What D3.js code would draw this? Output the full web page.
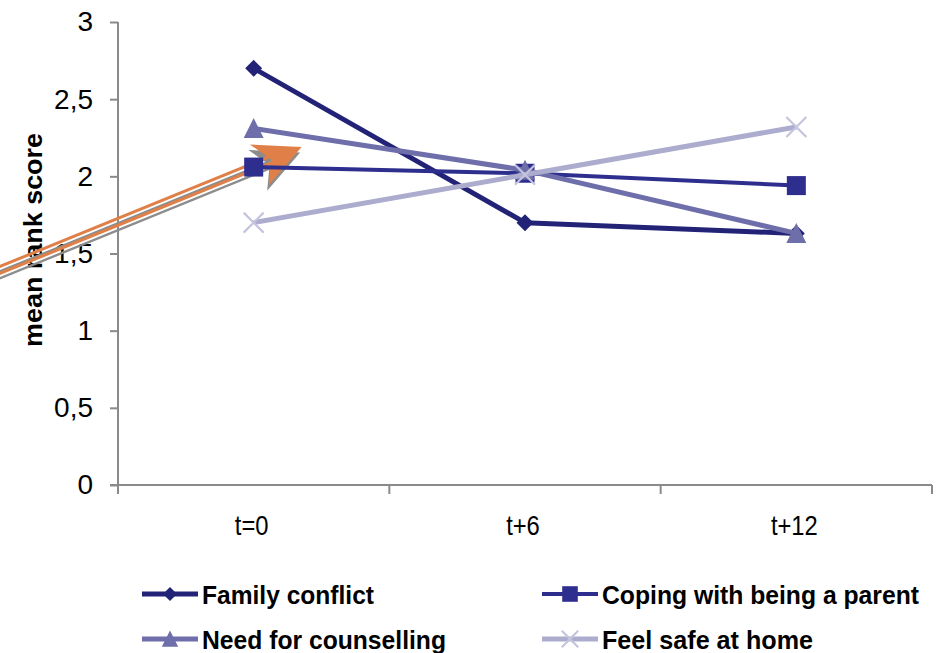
<!DOCTYPE html>
<html>
<head>
<meta charset="utf-8">
<script src="https://cdn.jsdelivr.net/npm/d3@7"></script>
<style>
  html, body { margin: 0; padding: 0; background: #fff; }
  svg { display: block; font-family: "Liberation Sans", Arial, sans-serif; }
</style>
</head>
<body>
<svg id="chart" width="937" height="653"></svg>
<script>
// Time points and mean rank scores per item
const categories = ["t=0", "t+6", "t+12"];
const familyConflict = [2.70, 1.70, 1.63];
const copingParent   = [2.06, 2.02, 1.94];
const needCounselling = [2.31, 2.04, 1.63];
const feelSafeHome   = [1.70, 2.01, 2.32];
const yTicks = [0, 0.5, 1, 1.5, 2, 2.5, 3];

const series = [
  { name: "Family conflict", values: familyConflict, color: "#222277", width: 5, marker: "diamond" },
  { name: "Coping with being a parent", values: copingParent, color: "#2e2e8e", width: 4, marker: "square" },
  { name: "Need for counselling", values: needCounselling, color: "#6e6eaa", width: 5, marker: "triangle" },
  { name: "Feel safe at home", values: feelSafeHome, color: "#acacce", width: 5, marker: "cross" }
];

const svg = d3.select("#chart");
const plotLeft = 118, plotRight = 932, plotTop = 22, plotBottom = 485;

const x = d3.scaleBand().domain(categories).range([plotLeft, plotRight]).padding(0);
const y = d3.scaleLinear().domain([0, 3]).range([plotBottom, plotTop]);
const fmt = d => d3.format(".1~f")(d).replace(".", ",");

const axisColor = "#8a8a8a";

// Y axis
const yAxis = svg.append("g")
  .attr("transform", `translate(${plotLeft},0)`)
  .call(d3.axisLeft(y).tickValues(yTicks).tickFormat(fmt).tickSize(8).tickPadding(17));
yAxis.select(".domain").attr("stroke", axisColor).attr("stroke-width", 2)
  .attr("d", `M0,${plotTop}V${plotBottom + 8}`);
yAxis.selectAll(".tick line").attr("stroke", axisColor).attr("stroke-width", 2);
yAxis.selectAll(".tick text").attr("font-size", 28).attr("fill", "#000")
  .attr("font-family", "Liberation Sans, Arial, sans-serif");

// X axis: ticks at category boundaries
const xAxis = svg.append("g").attr("transform", `translate(0,${plotBottom})`);
xAxis.append("line").attr("x1", plotLeft - 8).attr("x2", plotRight).attr("y1", 0).attr("y2", 0)
  .attr("stroke", axisColor).attr("stroke-width", 2);
const bounds = categories.map(c => x(c)).concat([x(categories[categories.length - 1]) + x.bandwidth()]);
xAxis.selectAll("line.tk").data(bounds).join("line").attr("class", "tk")
  .attr("x1", d => d).attr("x2", d => d).attr("y1", 0).attr("y2", 9)
  .attr("stroke", axisColor).attr("stroke-width", 2);
xAxis.selectAll("text").data(categories).join("text")
  .attr("transform", d => `translate(${x(d) + x.bandwidth() / 2 - 2},50) scale(0.88,1)`)
  .attr("text-anchor", "middle").attr("font-size", 27).attr("fill", "#000")
  .text(d => d);

// Y axis title
svg.append("text")
  .attr("transform", "translate(42,240) rotate(-90)")
  .attr("text-anchor", "middle").attr("font-size", 25).attr("font-weight", "bold")
  .attr("textLength", 214).attr("lengthAdjust", "spacingAndGlyphs")
  .text("mean rank score");

// Orange double-line arrow pointing at the first coping score
const tipX = x(categories[0]) + x.bandwidth() / 2 + 48;
const tipY = y(copingParent[0]) - 20;
const angle = -22.15;
function drawArrow(g, stroke, fill, w) {
  g.append("line").attr("x1", -345).attr("x2", -34).attr("y1", -3.2).attr("y2", -3.2)
    .attr("stroke", stroke).attr("stroke-width", w);
  g.append("line").attr("x1", -345).attr("x2", -34).attr("y1", 3.2).attr("y2", 3.2)
    .attr("stroke", stroke).attr("stroke-width", w);
  g.append("path").attr("d", "M0,0 L-47,-22 L-33,0 L-45,23 Z").attr("fill", fill);
}
const shadow = svg.append("g")
  .attr("transform", `translate(${tipX - 1.5},${tipY + 5.5}) rotate(${angle})`);
drawArrow(shadow, "#8c8c8c", "#8c8c8c", 2.4);
const arrow = svg.append("g")
  .attr("transform", `translate(${tipX},${tipY}) rotate(${angle})`);
drawArrow(arrow, "#e08048", "#e08048", 3);

// Marker shapes
function drawMarker(g, type, cx, cy, s, color) {
  if (type === "diamond") {
    g.append("path").attr("d", `M${cx},${cy - s}L${cx + s},${cy}L${cx},${cy + s}L${cx - s},${cy}Z`).attr("fill", color);
  } else if (type === "square") {
    g.append("rect").attr("x", cx - s).attr("y", cy - s).attr("width", 2 * s).attr("height", 2 * s).attr("fill", color);
  } else if (type === "triangle") {
    g.append("path").attr("d", `M${cx},${cy - s * 1.05}L${cx + s},${cy + s * 0.95}L${cx - s},${cy + s * 0.95}Z`).attr("fill", color);
  } else {
    g.append("path").attr("d", `M${cx - s},${cy - s}L${cx + s},${cy + s}M${cx - s},${cy + s}L${cx + s},${cy - s}`)
      .attr("stroke", "#c4c4de").attr("stroke-width", 2.2).attr("fill", "none");
  }
}
const markerSize = { diamond: 8.5, square: 9.5, triangle: 10, cross: 10 };

// Lines and markers
const line = d3.line().x((d, i) => x(categories[i]) + x.bandwidth() / 2).y(d => y(d));
series.forEach(s => {
  const g = svg.append("g");
  g.append("path").datum(s.values).attr("d", line)
    .attr("fill", "none").attr("stroke", s.color).attr("stroke-width", s.width)
    .attr("stroke-linejoin", "round");
  s.values.forEach((v, i) => {
    drawMarker(g, s.marker, x(categories[i]) + x.bandwidth() / 2, y(v), markerSize[s.marker], s.color);
  });
});

// Legend
const legendPos = [
  { lx: 142, ty: 604 }, { lx: 542, ty: 604 },
  { lx: 142, ty: 649 }, { lx: 542, ty: 649 }
];
const textLen = [172, 317, 244, 211];
series.forEach((s, i) => {
  const p = legendPos[i];
  const g = svg.append("g");
  const cy = p.ty - 10;
  g.append("line").attr("x1", p.lx).attr("x2", p.lx + 56).attr("y1", cy).attr("y2", cy)
    .attr("stroke", s.color).attr("stroke-width", s.width);
  drawMarker(g, s.marker, p.lx + 28, cy, markerSize[s.marker] * 0.82, s.color);
  g.append("text").attr("x", p.lx + 60).attr("y", p.ty)
    .attr("font-size", 25).attr("font-weight", "bold").attr("fill", "#000")
    .attr("textLength", textLen[i]).attr("lengthAdjust", "spacingAndGlyphs")
    .text(s.name);
});
</script>
</body>
</html>
